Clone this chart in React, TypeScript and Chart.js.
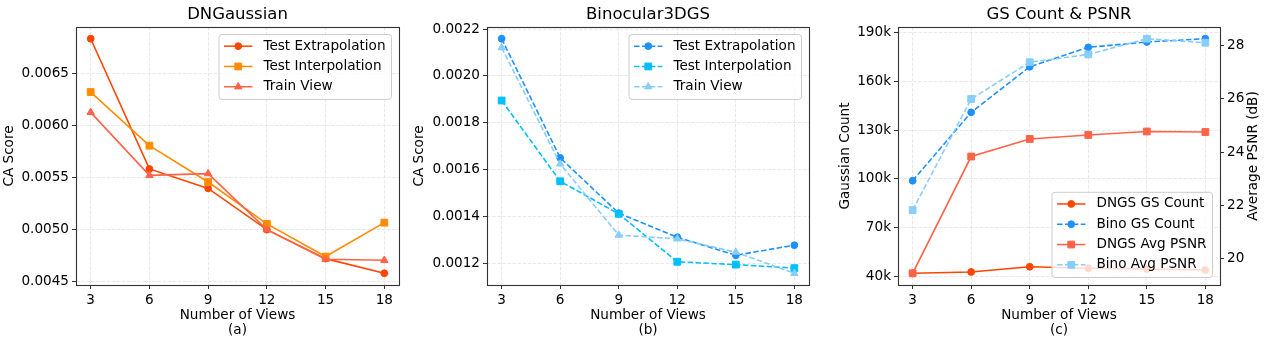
import React, { useEffect, useRef } from "react";
import { Chart, registerables } from "chart.js";

Chart.register(...registerables);

// ---------------- data ----------------
const views = [3, 6, 9, 12, 15, 18];
const xTicks = [3, 6, 9, 12, 15, 18];

const dngTestExtrap = [0.006834, 0.005581, 0.005394, 0.004997, 0.004718, 0.004577];
const dngTestInterp = [0.006321, 0.005805, 0.005455, 0.005052, 0.004738, 0.005064];
const dngTrainView = [0.006125, 0.005519, 0.005536, 0.004997, 0.004712, 0.004702];
const dngYTicks = [0.0045, 0.005, 0.0055, 0.006, 0.0065];

const binoTestExtrap = [0.002159, 0.00165, 0.001414, 0.001311, 0.001234, 0.001277];
const binoTestInterp = [0.001895, 0.00155, 0.001411, 0.001206, 0.001194, 0.001179];
const binoTrainView = [0.002121, 0.001624, 0.00132, 0.001304, 0.001247, 0.001157];
const binoYTicks = [0.0012, 0.0014, 0.0016, 0.0018, 0.002, 0.0022];

const dngsGsCount = [42100, 42900, 46100, 45200, 44700, 44100];
const binoGsCount = [98900, 140900, 168900, 180800, 184100, 186100];
const dngsAvgPsnr = [19.45, 23.83, 24.49, 24.64, 24.77, 24.75];
const binoAvgPsnr = [21.82, 25.99, 27.37, 27.66, 28.25, 28.1];
const countTicks = [40000, 70000, 100000, 130000, 160000, 190000];
const psnrTicks = [20, 22, 24, 26, 28];

// ---------------- style ----------------
const FONT = '"DejaVu Sans", sans-serif';
const SMALL = 13.6;
const GRID = "#e2e2e2";
const SPINE = "#333333";
const DASH = [5.5, 2.4];

function range5(arrs: number[][]): [number, number] {
  const all = arrs.flat();
  const lo = Math.min(...all);
  const hi = Math.max(...all);
  const m = (hi - lo) * 0.05;
  return [lo - m, hi + m];
}

function drawMarker(ctx: CanvasRenderingContext2D, style: string, x: number, y: number, r: number, color: string) {
  ctx.save();
  ctx.setLineDash([]);
  ctx.fillStyle = color;
  ctx.strokeStyle = color;
  ctx.lineWidth = 1;
  ctx.beginPath();
  if (style === "circle") {
    ctx.arc(x, y, r, 0, Math.PI * 2);
  } else if (style === "rect") {
    const s = r * Math.SQRT1_2;
    ctx.rect(x - s, y - s, 2 * s, 2 * s);
  } else {
    let a = 0;
    ctx.moveTo(x + Math.sin(a) * r, y - Math.cos(a) * r);
    a += (2 * Math.PI) / 3;
    ctx.lineTo(x + Math.sin(a) * r, y - Math.cos(a) * r);
    a += (2 * Math.PI) / 3;
    ctx.lineTo(x + Math.sin(a) * r, y - Math.cos(a) * r);
    ctx.closePath();
  }
  ctx.fill();
  ctx.stroke();
  ctx.restore();
}

const mplPlugin = {
  id: "mpl",
  afterDatasetsDraw(chart: any, _args: any, opts: any) {
    const { ctx, chartArea: a } = chart;
    // frame (spines)
    ctx.save();
    ctx.strokeStyle = SPINE;
    ctx.lineWidth = 1.1;
    ctx.setLineDash([]);
    ctx.strokeRect(Math.round(a.left) + 0.5, Math.round(a.top) + 0.5, Math.round(a.right) - Math.round(a.left), Math.round(a.bottom) - Math.round(a.top));
    ctx.restore();

    // legend
    const ds = chart.data.datasets;
    ctx.save();
    ctx.font = `${SMALL}px ${FONT}`;
    const textW = Math.max(...ds.map((d: any) => ctx.measureText(d.label).width));
    const pad = 5;
    const handleLen = 28.4;
    const gap = 11;
    const rowH = 20.3;
    const w = pad + handleLen + gap + textW + 6;
    const h = ds.length * rowH + 4;
    const inset = 7.5;
    const x = a.right - inset - w;
    const y = opts.corner === "lower right" ? a.bottom - inset - h : a.top + inset;
    ctx.beginPath();
    ctx.roundRect(x, y, w, h, 3);
    ctx.fillStyle = "rgba(255,255,255,0.8)";
    ctx.fill();
    ctx.strokeStyle = "#cccccc";
    ctx.lineWidth = 1;
    ctx.stroke();
    ds.forEach((d: any, i: number) => {
      const cy = y + 1.5 + rowH * (i + 0.5);
      ctx.save();
      ctx.strokeStyle = d.borderColor;
      ctx.lineWidth = 1.5;
      ctx.setLineDash(d.borderDash || []);
      ctx.beginPath();
      ctx.moveTo(x + pad, cy);
      ctx.lineTo(x + pad + handleLen, cy);
      ctx.stroke();
      ctx.restore();
      drawMarker(ctx, d.pointStyle, x + pad + handleLen / 2, cy, d.pointRadius, d.borderColor);
      ctx.fillStyle = "#000";
      ctx.textBaseline = "middle";
      ctx.textAlign = "left";
      ctx.fillText(d.label, x + pad + handleLen + gap, cy);
    });
    ctx.restore();
  },
  afterDraw(chart: any, _args: any, opts: any) {
    if (!opts.rightTitle) return;
    const { ctx, chartArea: a } = chart;
    ctx.save();
    ctx.translate(chart.width - opts.rightTitleInset, (a.top + a.bottom) / 2);
    ctx.rotate(-Math.PI / 2);
    ctx.font = `${SMALL}px ${FONT}`;
    ctx.fillStyle = "#000";
    ctx.textAlign = "center";
    ctx.textBaseline = "middle";
    ctx.fillText(opts.rightTitle, 0, 0);
    ctx.restore();
  },
};

type Series = { label: string; values: number[]; color: string; dashed: boolean; marker: string; axis?: string };

function radiusFor(marker: string) {
  if (marker === "rect") return 4.8;
  if (marker === "triangle") return 4.3;
  return 3.4;
}

function makeDataset(s: Series, i: number, n: number) {
  const r = radiusFor(s.marker);
  return {
    label: s.label,
    data: views.map((v, k) => ({ x: v, y: s.values[k] })),
    borderColor: s.color,
    backgroundColor: s.color,
    pointBackgroundColor: s.color,
    pointBorderColor: s.color,
    pointBorderWidth: 1,
    borderWidth: 1.6,
    borderDash: s.dashed ? DASH : [],
    pointStyle: s.marker,
    pointRadius: r,
    tension: 0,
    yAxisID: s.axis || "y",
    order: n - i,
  };
}

function gridOpts(onArea: boolean) {
  return {
    display: true,
    color: GRID,
    lineWidth: 0.8,
    drawOnChartArea: onArea,
    drawTicks: true,
    tickLength: 4,
    tickColor: SPINE,
    tickWidth: 1,
    tickBorderDash: [],
  };
}

function yScale(position: string, tickVals: number[], fmt: (v: number) => string, width: number, lim: [number, number], title?: string) {
  return {
    type: "linear",
    position,
    min: lim[0],
    max: lim[1],
    bounds: "data",
    afterBuildTicks: (s: any) => {
      s.ticks = tickVals.map((v) => ({ value: v }));
    },
    afterFit: (s: any) => {
      s.width = width;
    },
    ticks: { font: { family: FONT, size: SMALL }, color: "#000", padding: 3, callback: (v: any) => fmt(Number(v)) },
    grid: gridOpts(position === "left"),
    border: { display: false, dash: [3.5, 1.6] },
    title: title
      ? { display: true, text: title, color: "#000", font: { family: FONT, size: SMALL, lineHeight: 1.14 }, padding: { top: 1.75, bottom: 0 } }
      : { display: false },
  };
}

function makeConfig(p: {
  title: string;
  sub: string;
  series: Series[];
  yTicks: number[];
  yFmt: (v: number) => string;
  yWidth: number;
  yTitle: string;
  padRight: number;
  corner: string;
  y1?: { ticks: number[]; fmt: (v: number) => string; width: number; title: string; inset: number };
}) {
  const n = p.series.length;
  const leftSeries = p.series.filter((s) => !s.axis || s.axis === "y").map((s) => s.values);
  const rightSeries = p.series.filter((s) => s.axis === "y1").map((s) => s.values);
  const scales: any = {
    x: {
      type: "linear",
      min: xTicks[0] - 0.75,
      max: xTicks[xTicks.length - 1] + 0.75,
      bounds: "data",
      afterBuildTicks: (s: any) => {
        s.ticks = xTicks.map((v) => ({ value: v }));
      },
      afterFit: (s: any) => {
        s.height = 56;
      },
      ticks: { font: { family: FONT, size: SMALL }, color: "#000", padding: 3, maxRotation: 0, autoSkip: false, callback: (v: any) => String(v) },
      grid: gridOpts(true),
      border: { display: false, dash: [3.5, 1.6] },
      title: {
        display: true,
        text: ["Number of Views", p.sub],
        color: "#000",
        font: { family: FONT, size: SMALL, lineHeight: 1.12 },
        padding: { top: 0, bottom: 2.9 },
      },
    },
    y: yScale("left", p.yTicks, p.yFmt, p.yWidth, range5(leftSeries), p.yTitle),
  };
  if (p.y1) {
    scales.y1 = yScale("right", p.y1.ticks, p.y1.fmt, p.y1.width, range5(rightSeries));
  }
  return {
    type: "line",
    data: { datasets: p.series.map((s, i) => makeDataset(s, i, n)) },
    options: {
      responsive: false,
      animation: false,
      events: [],
      layout: { padding: { left: 0, right: p.padRight, top: 0, bottom: 0 } },
      scales,
      plugins: {
        legend: { display: false },
        tooltip: { enabled: false },
        title: {
          display: true,
          text: p.title,
          fullSize: false,
          color: "#000",
          font: { family: FONT, size: 16.5, weight: "normal", lineHeight: 1.2 },
          padding: { top: 4.6, bottom: 2.6 },
        },
        mpl: { corner: p.corner, rightTitle: p.y1 ? p.y1.title : "", rightTitleInset: p.y1 ? p.y1.inset : 0 },
      },
    },
    plugins: [mplPlugin],
  } as any;
}

const fmt4 = (v: number) => v.toFixed(4);
const fmtK = (v: number) => `${Math.round(v / 1000)}k`;
const fmtInt = (v: number) => String(Math.round(v));

const panels = [
  {
    left: 0,
    width: 405,
    config: () =>
      makeConfig({
        title: "DNGaussian",
        sub: "(a)",
        series: [
          { label: "Test Extrapolation", values: dngTestExtrap, color: "#FF4500", dashed: false, marker: "circle" },
          { label: "Test Interpolation", values: dngTestInterp, color: "#FF8C00", dashed: false, marker: "rect" },
          { label: "Train View", values: dngTrainView, color: "#FF6347", dashed: false, marker: "triangle" },
        ],
        yTicks: dngYTicks,
        yFmt: fmt4,
        yWidth: 76,
        yTitle: "CA Score",
        padRight: 6,
        corner: "upper right",
      }),
  },
  {
    left: 410,
    width: 405,
    config: () =>
      makeConfig({
        title: "Binocular3DGS",
        sub: "(b)",
        series: [
          { label: "Test Extrapolation", values: binoTestExtrap, color: "#1E90FF", dashed: true, marker: "circle" },
          { label: "Test Interpolation", values: binoTestInterp, color: "#00BFFF", dashed: true, marker: "rect" },
          { label: "Train View", values: binoTrainView, color: "#87CEFA", dashed: true, marker: "triangle" },
        ],
        yTicks: binoYTicks,
        yFmt: fmt4,
        yWidth: 77,
        yTitle: "CA Score",
        padRight: 6,
        corner: "upper right",
      }),
  },
  {
    left: 836,
    width: 430,
    config: () =>
      makeConfig({
        title: "GS Count & PSNR",
        sub: "(c)",
        series: [
          { label: "DNGS GS Count", values: dngsGsCount, color: "#FF4500", dashed: false, marker: "circle", axis: "y" },
          { label: "Bino GS Count", values: binoGsCount, color: "#1E90FF", dashed: true, marker: "circle", axis: "y" },
          { label: "DNGS Avg PSNR", values: dngsAvgPsnr, color: "#FF6347", dashed: false, marker: "rect", axis: "y1" },
          { label: "Bino Avg PSNR", values: binoAvgPsnr, color: "#87CEFA", dashed: true, marker: "rect", axis: "y1" },
        ],
        yTicks: countTicks,
        yFmt: fmtK,
        yWidth: 62,
        yTitle: "Gaussian Count",
        padRight: 0,
        corner: "lower right",
        y1: { ticks: psnrTicks, fmt: fmtInt, width: 46, title: "Average PSNR (dB)", inset: 13 },
      }),
  },
];

function Panel({ left, width, config }: { left: number; width: number; config: () => any }) {
  const ref = useRef<HTMLCanvasElement>(null);
  useEffect(() => {
    const chart = new Chart(ref.current as HTMLCanvasElement, config());
    return () => chart.destroy();
  }, []);
  return <canvas ref={ref} width={width} height={341} style={{ position: "absolute", left, top: 0, width, height: 341 }} />;
}

export default function App() {
  return (
    <div style={{ position: "absolute", left: 0, top: 0, width: 1266, height: 341, background: "#fff" }}>
      {panels.map((p, i) => (
        <Panel key={i} left={p.left} width={p.width} config={p.config} />
      ))}
    </div>
  );
}
